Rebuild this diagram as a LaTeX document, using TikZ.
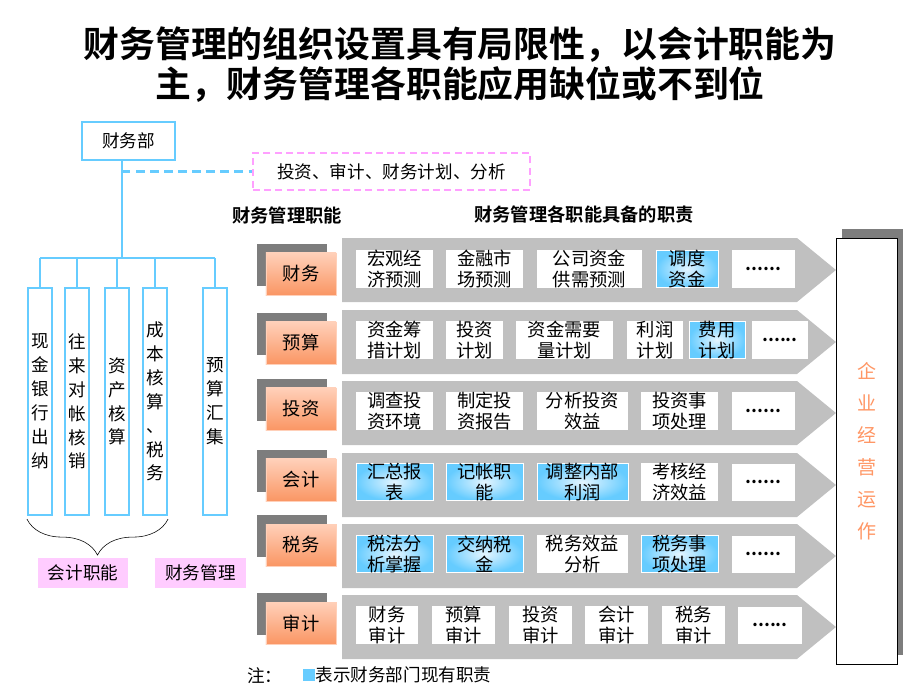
\documentclass[tikz,border=0pt]{standalone}
\usepackage{fontspec}
\setmainfont{Noto Sans CJK SC}[BoldFont={Noto Sans CJK SC Bold}]
\usetikzlibrary{calc,positioning,decorations.pathreplacing}

\definecolor{lineblue}{RGB}{102,204,255}
\definecolor{paleblue}{RGB}{228,245,255}
\definecolor{dashpink}{RGB}{255,160,255}
\definecolor{softpink}{RGB}{255,204,255}
\definecolor{bandgray}{RGB}{192,192,192}
\definecolor{shadegray}{RGB}{125,125,125}
\definecolor{peach}{RGB}{255,208,185}
\definecolor{deeporange}{RGB}{250,150,100}
\definecolor{runorange}{RGB}{255,150,100}

\tikzset{
  bluebox/.style={rectangle,draw=lineblue,line width=1.5pt,inner sep=0pt},
  unitbox/.style={bluebox,minimum width=0.6cm,minimum height=5.675cm,align=center,font=\fontsize{12.5}{17}\selectfont},
  pinkbox/.style={rectangle,fill=softpink,minimum width=2.25cm,minimum height=0.75cm},
  shadowbox/.style={rectangle,fill=shadegray,minimum width=1.75cm,minimum height=1.05cm},
  funcbox/.style={rectangle,draw=peach,top color=peach,bottom color=deeporange,minimum width=1.75cm,minimum height=1.05cm,font=\fontsize{13}{15}\selectfont},
  dutybox/.style={rectangle,fill=white,inner sep=0pt,minimum height=0.925cm,align=center,font=\fontsize{13}{14.5}\selectfont},
  ownbox/.style={dutybox,draw=white,inner color=paleblue,outer color=lineblue},
}

\begin{document}
\begin{tikzpicture}[x=0.025cm,y=-0.025cm,font=\fontsize{12.5}{14}\selectfont]

  \useasboundingbox (0,0) rectangle (920,690);

  \node (title) [align=center,font=\bfseries\fontsize{25.5}{28.5}\selectfont] at(460,65)
    {财务管理的组织设置具有局限性，以会计职能为\\主，财务管理各职能应用缺位或不到位};

  %% left: department tree
  \node (dept) [bluebox,minimum width=2.325cm,minimum height=0.95cm] at(128.5,141) {财务部};
  \node (plan) [rectangle,draw=dashpink,dash pattern=on 5pt off 3pt,line width=1.5pt,minimum width=6.925cm,minimum height=0.925cm] at(391.5,171.5) {投资、审计、财务计划、分析};

  \foreach \i/\x/\t in {1/40/{现\\金\\银\\行\\出\\纳},2/77/{往\\来\\对\\帐\\核\\销},3/117/{资\\产\\核\\算},4/155/{成\\本\\核\\算\\、\\税\\务},5/215/{预\\算\\汇\\集}}
    {
      \node (unit_\i) [unitbox] at(\x,401.5) {\t};
    }

  \coordinate (bus) at(122,258);
  \draw [lineblue,line width=1.5pt] (dept.south -| bus) -- (bus);
  \draw [lineblue,line width=1.5pt] (bus -| unit_1.north) -- (bus -| unit_5.north);
  \foreach \i in {1,...,5}
    \draw [lineblue,line width=1.5pt] (bus -| unit_\i.north) -- (unit_\i.north);
  \draw [lineblue,dash pattern=on 6pt off 4pt,line width=1.5pt] (bus |- plan.west) -- (plan.west);

  \draw [decorate,decoration={brace,mirror,amplitude=0.9cm}] ($(unit_1.south west)+(0,3)$) -- ($(unit_4.south east)+(0,3)$);
  \node (acct) [pinkbox] at(83,573) {会计职能};
  \node (mgmt) [pinkbox] at(200.5,573) {财务管理};

  %% right: functions and duties
  \node (head_func) [font=\bfseries\fontsize{13}{15}\selectfont] at(287,215) {财务管理职能};
  \node (head_duty) [font=\bfseries\fontsize{13}{15}\selectfont] at(584,215) {财务管理各职能具备的职责};

  \node (runshadow) [rectangle,fill=shadegray,minimum width=1.525cm,minimum height=10.65cm] at(872.5,442) {};
  \node (run) [rectangle,draw=black,fill=white,minimum width=1.525cm,minimum height=10.65cm,align=center,text=runorange,font=\fontsize{13.5}{22.7}\selectfont] at(866.5,451) {企\\业\\经\\营\\运\\作};

  \foreach \i/\y/\ly/\name in {1/270/274/财务,2/342/343/预算,3/413/409/投资,4/485/480/会计,5/556/545/税务,6/627/623/审计}
    {
      \fill [bandgray] (342,\y-32) -- (797,\y-32) -- (836,\y) -- (797,\y+32) -- (342,\y+32) -- cycle;
      \node (shadow_\i) [shadowbox] at(292,\ly-9) {};
      \node (func_\i) [funcbox] at(301,\ly) {\name};
    }

  \foreach \j/\a/\b/\t/\s in {1/356/433/{宏观经\\济预测}/dutybox,2/446/523/{金融市\\场预测}/dutybox,3/537/642/{公司资金\\供需预测}/dutybox,4/656/718/{调度\\资金}/ownbox,5/732/795/{\textbf{......}}/dutybox}
    \node (duty_1_\j) [\s,minimum width={(\b-\a)*0.025cm}] at({(\a+\b)/2},269) {\t};

  \foreach \j/\a/\b/\t/\s in {1/356/433/{资金筹\\措计划}/dutybox,2/446/503/{投资\\计划}/dutybox,3/516/613/{资金需要\\量计划}/dutybox,4/627/683/{利润\\计划}/dutybox,5/689/745/{费用\\计划}/ownbox,6/752/808/{\textbf{......}}/dutybox}
    \node (duty_2_\j) [\s,minimum width={(\b-\a)*0.025cm}] at({(\a+\b)/2},340) {\t};

  \foreach \j/\a/\b/\t/\s in {1/356/433/{调查投\\资环境}/dutybox,2/446/523/{制定投\\资报告}/dutybox,3/537/628/{分析投资\\效益}/dutybox,4/641/718/{投资事\\项处理}/dutybox,5/732/795/{\textbf{......}}/dutybox}
    \node (duty_3_\j) [\s,minimum width={(\b-\a)*0.025cm}] at({(\a+\b)/2},411) {\t};

  \foreach \j/\a/\b/\t/\s in {1/356/433/{汇总报\\表}/ownbox,2/446/523/{记帐职\\能}/ownbox,3/537/628/{调整内部\\利润}/ownbox,4/641/718/{考核经\\济效益}/dutybox,5/732/795/{\textbf{......}}/dutybox}
    \node (duty_4_\j) [\s,minimum width={(\b-\a)*0.025cm}] at({(\a+\b)/2},482) {\t};

  \foreach \j/\a/\b/\t/\s in {1/356/433/{税法分\\析掌握}/ownbox,2/446/523/{交纳税\\金}/ownbox,3/537/628/{税务效益\\分析}/dutybox,4/641/718/{税务事\\项处理}/ownbox,5/732/795/{\textbf{......}}/dutybox}
    \node (duty_5_\j) [\s,minimum width={(\b-\a)*0.025cm}] at({(\a+\b)/2},554) {\t};

  \foreach \j/\a/\b/\t/\s in {1/356/418/{财务\\审计}/dutybox,2/432/495/{预算\\审计}/dutybox,3/509/572/{投资\\审计}/dutybox,4/585/648/{会计\\审计}/dutybox,5/662/725/{税务\\审计}/dutybox,6/738/802/{\textbf{......}}/dutybox}
    \node (duty_6_\j) [\s,minimum width={(\b-\a)*0.025cm}] at({(\a+\b)/2},625) {\t};

  %% note
  \node (note) [anchor=west,inner sep=0pt] at(247,676) {注：};
  \node (legend) [rectangle,fill=lineblue,minimum size=0.3cm,inner sep=0pt] at(309,675) {};
  \node (legendtext) [anchor=west,inner sep=0pt] at(legend.east) {表示财务部门现有职责};

\end{tikzpicture}
\end{document}
